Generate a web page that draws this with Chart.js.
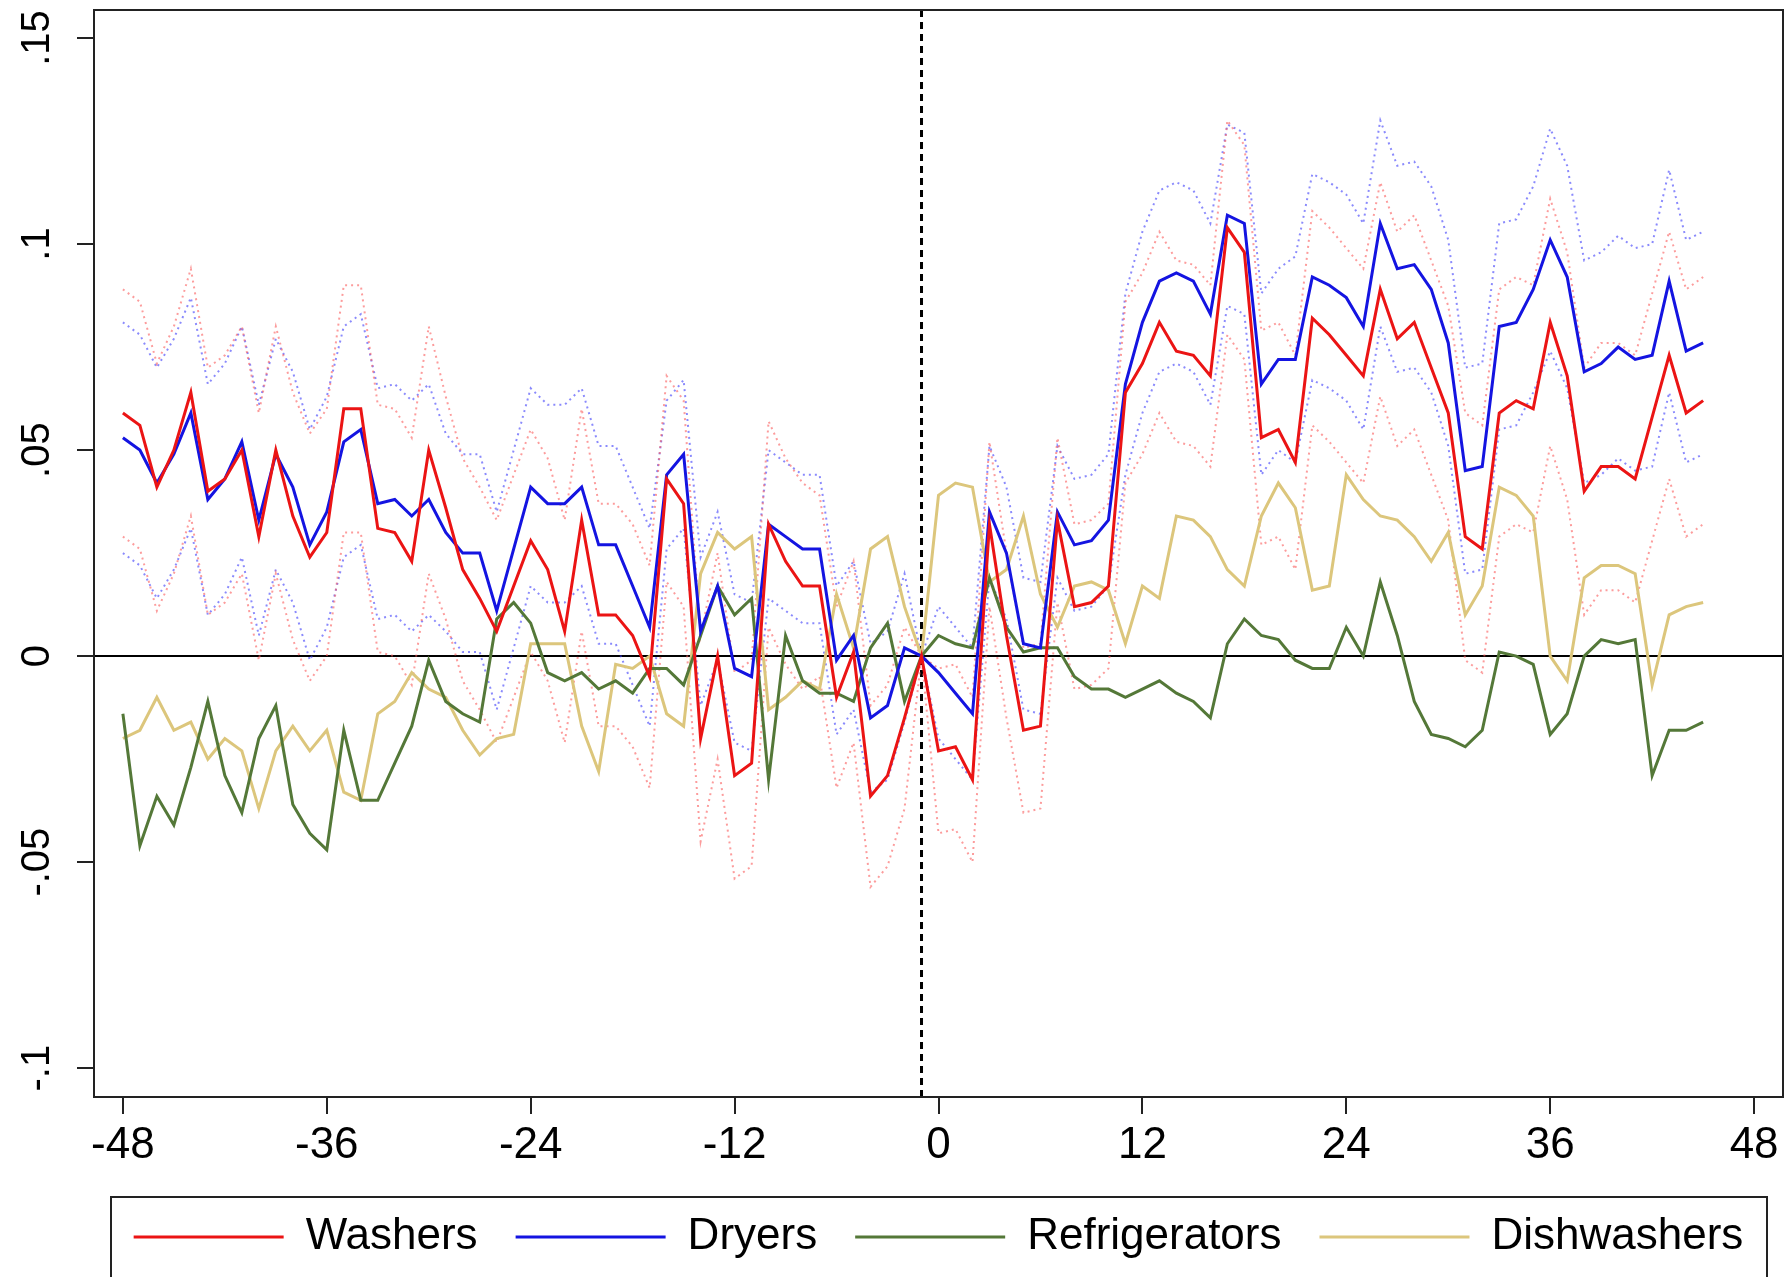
<!DOCTYPE html>
<html>
<head>
<meta charset="utf-8">
<script src="https://cdn.jsdelivr.net/npm/chart.js@4.4.0/dist/chart.umd.min.js"></script>
<style>
  html, body { margin: 0; padding: 0; background: #fff; }
</style>
</head>
<body>
<canvas id="myChart" width="1788" height="1277"></canvas>
<script>
// months relative to event (x axis)
const months = [
  -48,-47,-46,-45,-44,-43,-42,-41,-40,-39,-38,-37,
  -36,-35,-34,-33,-32,-31,-30,-29,-28,-27,-26,-25,
  -24,-23,-22,-21,-20,-19,-18,-17,-16,-15,-14,-13,
  -12,-11,-10,-9,-8,-7,-6,-5,-4,-3,-2,-1,
  0,1,2,3,4,5,6,7,8,9,10,11,
  12,13,14,15,16,17,18,19,20,21,22,23,
  24,25,26,27,28,29,30,31,32,33,34,35,
  36,37,38,39,40,41,42,43,44,45
];

const washers = [
  0.059,0.056,0.041,0.050,0.064,0.040,0.043,0.050,0.029,0.050,0.034,0.024,
  0.030,0.060,0.060,0.031,0.030,0.023,0.050,0.036,0.021,0.014,0.006,0.017,
  0.028,0.021,0.006,0.033,0.010,0.010,0.005,-0.005,0.043,0.037,-0.020,0.000,
  -0.029,-0.026,0.032,0.023,0.017,0.017,-0.010,0.001,-0.034,-0.029,-0.015,0,
  -0.023,-0.022,-0.030,0.032,0.005,-0.018,-0.017,0.033,0.012,0.013,0.017,0.064,
  0.071,0.081,0.074,0.073,0.068,0.104,0.098,0.053,0.055,0.047,0.082,0.078,
  0.073,0.068,0.089,0.077,0.081,0.070,0.059,0.029,0.026,0.059,0.062,0.060,
  0.081,0.068,0.040,0.046,0.046,0.043,0.058,0.073,0.059,0.062
];
const washersHi = [
  0.089,0.086,0.071,0.080,0.094,0.070,0.073,0.080,0.059,0.080,0.064,0.054,
  0.060,0.090,0.090,0.061,0.060,0.053,0.080,0.063,0.048,0.041,0.033,0.044,
  0.055,0.048,0.033,0.060,0.037,0.037,0.032,0.022,0.068,0.062,0.005,0.025,
  -0.004,-0.001,0.057,0.048,0.042,0.039,0.012,0.023,-0.012,-0.007,0.007,0,
  -0.003,-0.002,-0.010,0.052,0.025,0.002,0.003,0.053,0.032,0.033,0.037,0.086,
  0.093,0.103,0.096,0.095,0.090,0.130,0.124,0.079,0.081,0.073,0.108,0.104,
  0.099,0.094,0.115,0.103,0.107,0.096,0.085,0.059,0.056,0.089,0.092,0.090,
  0.111,0.098,0.070,0.076,0.076,0.073,0.088,0.103,0.089,0.092
];
const washersLo = [
  0.029,0.026,0.011,0.020,0.034,0.010,0.013,0.020,-0.001,0.020,0.004,-0.006,
  0.000,0.030,0.030,0.001,0.000,-0.007,0.020,0.009,-0.006,-0.013,-0.021,-0.010,
  0.001,-0.006,-0.021,0.006,-0.017,-0.017,-0.022,-0.032,0.018,0.012,-0.045,-0.025,
  -0.054,-0.051,0.007,-0.002,-0.008,-0.005,-0.032,-0.021,-0.056,-0.051,-0.037,0,
  -0.043,-0.042,-0.050,0.012,-0.015,-0.038,-0.037,0.013,-0.008,-0.007,-0.003,0.042,
  0.049,0.059,0.052,0.051,0.046,0.078,0.072,0.027,0.029,0.021,0.056,0.052,
  0.047,0.042,0.063,0.051,0.055,0.044,0.033,-0.001,-0.004,0.029,0.032,0.030,
  0.051,0.038,0.010,0.016,0.016,0.013,0.028,0.043,0.029,0.032
];

const dryers = [
  0.053,0.050,0.042,0.049,0.059,0.038,0.043,0.052,0.033,0.049,0.041,0.027,
  0.035,0.052,0.055,0.037,0.038,0.034,0.038,0.030,0.025,0.025,0.011,0.026,
  0.041,0.037,0.037,0.041,0.027,0.027,0.017,0.007,0.044,0.049,0.006,0.017,
  -0.003,-0.005,0.032,0.029,0.026,0.026,-0.001,0.005,-0.015,-0.012,0.002,0,
  -0.004,-0.009,-0.014,0.035,0.025,0.003,0.002,0.035,0.027,0.028,0.033,0.066,
  0.081,0.091,0.093,0.091,0.083,0.107,0.105,0.066,0.072,0.072,0.092,0.090,
  0.087,0.080,0.105,0.094,0.095,0.089,0.076,0.045,0.046,0.080,0.081,0.089,
  0.101,0.092,0.069,0.071,0.075,0.072,0.073,0.091,0.074,0.076
];
const dryersHi = [
  0.081,0.078,0.070,0.077,0.087,0.066,0.071,0.080,0.061,0.077,0.069,0.055,
  0.063,0.080,0.083,0.065,0.066,0.062,0.066,0.054,0.049,0.049,0.035,0.050,
  0.065,0.061,0.061,0.065,0.051,0.051,0.041,0.031,0.062,0.067,0.024,0.035,
  0.015,0.013,0.050,0.047,0.044,0.044,0.017,0.023,0.003,0.006,0.020,0,
  0.012,0.007,0.002,0.051,0.041,0.019,0.018,0.051,0.043,0.044,0.049,0.088,
  0.103,0.113,0.115,0.113,0.105,0.129,0.127,0.088,0.094,0.097,0.117,0.115,
  0.112,0.105,0.130,0.119,0.120,0.114,0.101,0.070,0.071,0.105,0.106,0.114,
  0.128,0.119,0.096,0.098,0.102,0.099,0.100,0.118,0.101,0.103
];
const dryersLo = [
  0.025,0.022,0.014,0.021,0.031,0.010,0.015,0.024,0.005,0.021,0.013,-0.001,
  0.007,0.024,0.027,0.009,0.010,0.006,0.010,0.006,0.001,0.001,-0.013,0.002,
  0.017,0.013,0.013,0.017,0.003,0.003,-0.007,-0.017,0.026,0.031,-0.012,-0.001,
  -0.021,-0.023,0.014,0.011,0.008,0.008,-0.019,-0.013,-0.033,-0.030,-0.016,0,
  -0.020,-0.025,-0.030,0.019,0.009,-0.013,-0.014,0.019,0.011,0.012,0.017,0.044,
  0.059,0.069,0.071,0.069,0.061,0.085,0.083,0.044,0.050,0.047,0.067,0.065,
  0.062,0.055,0.080,0.069,0.070,0.064,0.051,0.020,0.021,0.055,0.056,0.064,
  0.074,0.065,0.042,0.044,0.048,0.045,0.046,0.064,0.047,0.049
];

const refrigerators = [
  -0.014,-0.046,-0.034,-0.041,-0.027,-0.011,-0.029,-0.038,-0.020,-0.012,-0.036,-0.043,
  -0.047,-0.018,-0.035,-0.035,-0.026,-0.017,-0.001,-0.011,-0.014,-0.016,0.009,0.013,
  0.008,-0.004,-0.006,-0.004,-0.008,-0.006,-0.009,-0.003,-0.003,-0.007,0.005,0.017,
  0.010,0.014,-0.030,0.005,-0.006,-0.009,-0.009,-0.011,0.002,0.008,-0.011,0,
  0.005,0.003,0.002,0.019,0.007,0.001,0.002,0.002,-0.005,-0.008,-0.008,-0.010,
  -0.008,-0.006,-0.009,-0.011,-0.015,0.003,0.009,0.005,0.004,-0.001,-0.003,-0.003,
  0.007,0.000,0.018,0.005,-0.011,-0.019,-0.020,-0.022,-0.018,0.001,0.000,-0.002,
  -0.019,-0.014,0.000,0.004,0.003,0.004,-0.029,-0.018,-0.018,-0.016
];

const dishwashers = [
  -0.020,-0.018,-0.010,-0.018,-0.016,-0.025,-0.020,-0.023,-0.037,-0.023,-0.017,-0.023,
  -0.018,-0.033,-0.035,-0.014,-0.011,-0.004,-0.008,-0.010,-0.018,-0.024,-0.020,-0.019,
  0.003,0.003,0.003,-0.017,-0.028,-0.002,-0.003,0.000,-0.014,-0.017,0.020,0.030,
  0.026,0.029,-0.013,-0.010,-0.006,-0.008,0.015,0.002,0.026,0.029,0.012,0,
  0.039,0.042,0.041,0.018,0.021,0.034,0.015,0.007,0.017,0.018,0.016,0.003,
  0.017,0.014,0.034,0.033,0.029,0.021,0.017,0.034,0.042,0.036,0.016,0.017,
  0.044,0.038,0.034,0.033,0.029,0.023,0.030,0.010,0.017,0.041,0.039,0.034,
  0.000,-0.006,0.019,0.022,0.022,0.020,-0.007,0.010,0.012,0.013
];

const xTicks = [-48, -36, -24, -12, 0, 12, 24, 36, 48];
const yTicks = [-0.1, -0.05, 0, 0.05, 0.1, 0.15];
const yTickLabels = ['-.1', '-.05', '0', '.05', '.1', '.15'];
const eventMonth = -1;

const FONT = "'Liberation Sans', Arial, Helvetica, sans-serif";

function pts(vals) {
    return months.map((m, i) => ({x: m, y: vals[i]}));
}

function mainLine(label, vals, color) {
    return {label: label, data: pts(vals), borderColor: color, backgroundColor: color,
            borderWidth: 3, pointRadius: 0, tension: 0, fill: false};
}
function ciLine(label, vals, color) {
    return {label: label, data: pts(vals), borderColor: color, borderWidth: 2,
            borderDash: [2, 4], pointRadius: 0, tension: 0, fill: false};
}

// reference lines, frame, rotated y labels, legend box
const decor = {
    id: 'decor',
    beforeDatasetsDraw(chart) {
        const {ctx, chartArea: a, scales: {x, y}} = chart;
        ctx.save();
        ctx.strokeStyle = '#000';
        ctx.lineWidth = 2;
        const y0 = y.getPixelForValue(0);
        ctx.beginPath(); ctx.moveTo(a.left, y0); ctx.lineTo(a.right, y0); ctx.stroke();
        const xe = x.getPixelForValue(eventMonth);
        ctx.lineWidth = 3;
        ctx.setLineDash([7, 5]);
        ctx.beginPath(); ctx.moveTo(xe, a.top); ctx.lineTo(xe, a.bottom); ctx.stroke();
        ctx.restore();
    },
    afterDraw(chart) {
        const {ctx, chartArea: a, scales: {y}} = chart;
        ctx.save();
        ctx.strokeStyle = '#222';
        ctx.lineWidth = 2;
        ctx.strokeRect(a.left, a.top, a.right - a.left, a.bottom - a.top);
        // legend box (bottom edge runs off the canvas like the original)
        ctx.strokeRect(a.left + 17, a.bottom + 100, a.right - a.left - 33, 200);
        // y tick labels, rotated
        ctx.fillStyle = '#000';
        ctx.font = '40px ' + FONT;
        ctx.textAlign = 'center';
        ctx.textBaseline = 'middle';
        yTicks.forEach((v, i) => {
            ctx.save();
            ctx.translate(38, y.getPixelForValue(v));
            ctx.rotate(-Math.PI / 2);
            ctx.fillText(yTickLabels[i], 0, 0);
            ctx.restore();
        });
        ctx.restore();
    }
};

function loadChart() {
    const ctx = document.getElementById('myChart').getContext('2d');
    new Chart(ctx, {
        type: 'line',
        data: {
            datasets: [
                mainLine('Washers', washers, 'rgb(235,20,20)'),
                mainLine('Dryers', dryers, 'rgb(20,20,225)'),
                mainLine('Refrigerators', refrigerators, 'rgb(84,120,56)'),
                mainLine('Dishwashers', dishwashers, 'rgb(220,198,124)'),
                ciLine('Washers hi', washersHi, 'rgba(250,90,90,0.6)'),
                ciLine('Washers lo', washersLo, 'rgba(250,90,90,0.6)'),
                ciLine('Dryers hi', dryersHi, 'rgba(60,60,250,0.6)'),
                ciLine('Dryers lo', dryersLo, 'rgba(60,60,250,0.6)')
            ]
        },
        options: {
            responsive: false,
            animation: false,
            devicePixelRatio: 1,
            layout: {padding: {top: 10, right: 5, left: 0, bottom: 8}},
            plugins: {
                tooltip: {enabled: false},
                legend: {
                    position: 'bottom',
                    fullSize: false,
                    labels: {
                        filter: item => item.datasetIndex < 4,
                        usePointStyle: true,
                        pointStyle: 'line',
                        pointStyleWidth: 150,
                        padding: 38,
                        color: '#000',
                        font: {size: 44, family: FONT}
                    }
                }
            },
            scales: {
                x: {
                    type: 'linear',
                    min: -49.7,
                    max: 49.7,
                    afterBuildTicks: s => { s.ticks = xTicks.map(v => ({value: v})); },
                    afterFit: s => { s.height = 80; },
                    border: {display: false},
                    grid: {drawOnChartArea: false, tickLength: 17, color: '#222', lineWidth: 2},
                    ticks: {color: '#000', font: {size: 44, family: FONT}, padding: 5,
                            maxRotation: 0, autoSkip: false, callback: v => String(v)}
                },
                y: {
                    min: -0.107,
                    max: 0.1568,
                    afterBuildTicks: s => { s.ticks = yTicks.map(v => ({value: v})); },
                    afterFit: s => { s.width = 94; },
                    border: {display: false},
                    grid: {drawOnChartArea: false, tickLength: 17, color: '#222', lineWidth: 2},
                    ticks: {display: false}
                }
            }
        },
        plugins: [decor]
    });
}
document.addEventListener('DOMContentLoaded', loadChart);
</script>
</body>
</html>
